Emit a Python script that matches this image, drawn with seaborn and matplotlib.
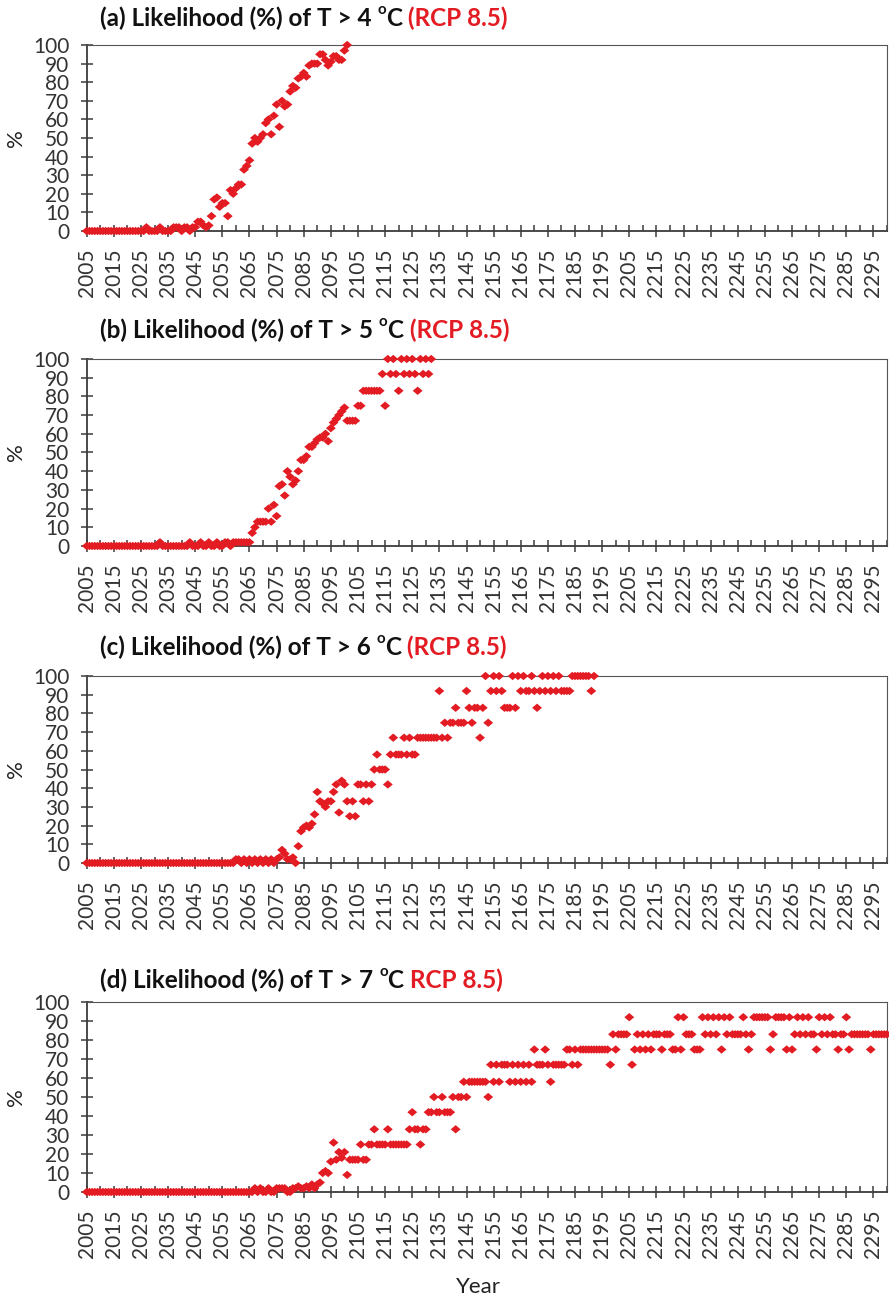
import numpy as np
import matplotlib
matplotlib.use("Agg")
import matplotlib.pyplot as plt
from matplotlib.markers import MarkerStyle
import seaborn as sns

# likelihood (%) per year, starting in 2005
start_year = 2005

t4_vals = [
    0, 0, 0, 0, 0, 0, 0, 0, 0, 0,            # 2005
    0, 0, 0, 0, 0, 0, 0, 0, 0, 0,            # 2015
    0, 0, 2, 0, 0, 0, 0, 2, 0, 0,            # 2025
    0, 0, 2, 2, 2, 0, 2, 2, 0, 2,            # 2035
    2, 5, 5, 3, 2, 3, 8, 17, 18, 13,         # 2045
    15, 15, 8, 22, 20, 23, 25, 25, 33, 35,   # 2055
    38, 47, 50, 48, 50, 52, 58, 60, 52, 62,  # 2065
    68, 56, 70, 67, 68, 75, 78, 77, 82, 83,  # 2075
    85, 83, 89, 90, 90, 90, 95, 95, 92, 89,  # 2085
    91, 94, 94, 92, 92, 97, 100,             # 2095
]

t5_vals = [
    0, 0, 0, 0, 0, 0, 0, 0, 0, 0,            # 2005
    0, 0, 0, 0, 0, 0, 0, 0, 0, 0,            # 2015
    0, 0, 0, 0, 0, 0, 0, 2, 0, 0,            # 2025
    0, 0, 0, 0, 0, 0, 0, 0, 2, 0,            # 2035
    0, 0, 2, 0, 0, 2, 0, 0, 2, 0,            # 2045
    0, 2, 2, 0, 2, 2, 2, 2, 2, 2,            # 2055
    2, 7, 10, 13, 13, 13, 13, 20, 13, 22,    # 2065
    16, 32, 33, 27, 40, 37, 33, 35, 40, 46,  # 2075
    46, 48, 53, 53, 55, 57, 58, 58, 60, 56,  # 2085
    63, 66, 68, 70, 72, 74, 67, 67, 67, 67,  # 2095
    75, 75, 83, 83, 83, 83, 83, 83, 83, 92,  # 2105
    75, 100, 92, 100, 92, 83, 100, 92, 100, 92,  # 2115
    100, 92, 83, 100, 92, 100, 92, 100,      # 2125
]

t6_vals = [
    0, 0, 0, 0, 0, 0, 0, 0, 0, 0,            # 2005
    0, 0, 0, 0, 0, 0, 0, 0, 0, 0,            # 2015
    0, 0, 0, 0, 0, 0, 0, 0, 0, 0,            # 2025
    0, 0, 0, 0, 0, 0, 0, 0, 0, 0,            # 2035
    0, 0, 0, 0, 0, 0, 0, 0, 0, 0,            # 2045
    0, 0, 0, 0, 0, 2, 2, 0, 2, 0,            # 2055
    2, 0, 2, 0, 2, 0, 2, 0, 2, 0,            # 2065
    2, 3, 7, 5, 2, 2, 3, 0, 9, 17,           # 2075
    19, 20, 19, 21, 26, 38, 33, 32, 30, 33,  # 2085
    33, 38, 42, 27, 44, 42, 33, 25, 33, 25,  # 2095
    42, 42, 33, 42, 33, 42, 50, 58, 50, 50,  # 2105
    50, 42, 58, 67, 58, 58, 58, 67, 58, 67,  # 2115
    58, 58, 67, 67, 67, 67, 67, 67, 67, 67,  # 2125
    92, 67, 75, 67, 75, 75, 83, 75, 75, 75,  # 2135
    92, 83, 75, 83, 83, 67, 83, 100, 75, 92, # 2145
    100, 92, 100, 92, 83, 83, 83, 100, 83, 100,  # 2155
    92, 100, 92, 92, 100, 92, 83, 92, 100, 92,   # 2165
    100, 92, 100, 92, 100, 92, 92, 92, 92, 100,  # 2175
    100, 100, 100, 100, 100, 100, 92, 100,       # 2185
]

t7_vals = [
    0, 0, 0, 0, 0, 0, 0, 0, 0, 0,            # 2005
    0, 0, 0, 0, 0, 0, 0, 0, 0, 0,            # 2015
    0, 0, 0, 0, 0, 0, 0, 0, 0, 0,            # 2025
    0, 0, 0, 0, 0, 0, 0, 0, 0, 0,            # 2035
    0, 0, 0, 0, 0, 0, 0, 0, 0, 0,            # 2045
    0, 0, 0, 0, 0, 0, 0, 0, 0, 0,            # 2055
    0, 0, 2, 0, 2, 0, 0, 2, 0, 0,            # 2065
    2, 2, 2, 2, 0, 0, 2, 2, 3, 2,            # 2075
    2, 3, 2, 4, 2, 4, 5, 10, 11, 10,         # 2085
    16, 26, 17, 21, 18, 21, 9, 17, 17, 17,   # 2095
    17, 25, 17, 17, 25, 25, 33, 25, 25, 25,  # 2105
    25, 33, 25, 25, 25, 25, 25, 25, 25, 33,  # 2115
    42, 33, 33, 25, 33, 33, 42, 42, 50, 42,  # 2125
    42, 50, 42, 42, 42, 50, 33, 50, 50, 58,  # 2135
    50, 58, 58, 58, 58, 58, 58, 58, 50, 67,  # 2145
    58, 67, 58, 67, 67, 67, 58, 67, 58, 67,  # 2155
    58, 67, 58, 67, 58, 75, 67, 67, 67, 75,  # 2165
    67, 58, 67, 67, 67, 67, 67, 75, 75, 67,  # 2175
    75, 67, 75, 75, 75, 75, 75, 75, 75, 75,  # 2185
    75, 75, 75, 67, 83, 75, 83, 83, 83, 83,  # 2195
    92, 67, 75, 83, 75, 83, 75, 83, 75, 83,  # 2205
    83, 83, 75, 83, 83, 83, 75, 75, 92, 75,  # 2215
    92, 83, 83, 83, 75, 75, 75, 92, 83, 92,  # 2225
    83, 92, 83, 92, 75, 92, 83, 92, 83, 83,  # 2235
    83, 83, 92, 83, 75, 83, 92, 92, 92, 92,  # 2245
    92, 92, 75, 83, 92, 92, 92, 92, 75, 92,  # 2255
    75, 83, 92, 83, 92, 83, 92, 83, 83, 75,  # 2265
    92, 83, 92, 83, 92, 83, 83, 75, 83, 83,  # 2275
    92, 75, 83, 83, 83, 83, 83, 83, 83, 75,  # 2285
    83, 83, 83, 83, 83, 83,                  # 2295
]

panel_series = [t4_vals, t5_vals, t6_vals, t7_vals]
panel_titles = [
    "(a) Likelihood (%) of T > 4 ",
    "(b) Likelihood (%) of T > 5 ",
    "(c) Likelihood (%) of T > 6 ",
    "(d) Likelihood (%) of T > 7 ",
]
panel_red = [" (RCP 8.5)", " (RCP 8.5)", " (RCP 8.5)", " RCP 8.5)"]

tick_years = list(range(2005, 2300, 10))
y_ticks = [0, 10, 20, 30, 40, 50, 60, 70, 80, 90, 100]

RED = "#E31B23"
DARK = "#3c3c3c"

sns.set_theme(style="white")
plt.rcParams["font.family"] = ["Lato", "DejaVu Sans"]

W, H = 889, 1300
fig = plt.figure(figsize=(W / 100, H / 100), dpi=100)

# axes boxes in pixels: (top, bottom) of plot area, and title centre
ax_left, ax_right = 86.7, 887
boxes = [(45, 231, 18), (359, 546, 330), (676, 863, 647), (1002, 1192, 980)]

diamond = MarkerStyle([(-1, 0), (0, 0.85), (1, 0), (0, -0.85), (-1, 0)])

for i, (vals, (top, bot, ty)) in enumerate(zip(panel_series, boxes)):
    ax = fig.add_axes([ax_left / W, 1 - bot / H, (ax_right - ax_left) / W, (bot - top) / H])
    years = np.arange(start_year, start_year + len(vals))
    sns.scatterplot(x=years, y=vals, ax=ax, marker=diamond, color=RED,
                    s=50, linewidth=0, edgecolor="none", clip_on=False, zorder=3)
    ax.set_xlim(2005, 2300)
    ax.set_ylim(0, 100)
    ax.set_xticks(tick_years)
    ax.set_xticklabels([str(y) for y in tick_years], rotation=90)
    ax.set_xticks(list(range(2010, 2301, 10)), minor=True)
    ax.set_yticks(y_ticks)
    ax.tick_params(axis="x", which="major", direction="inout", length=9, width=1.1,
                   color=DARK, labelsize=15, labelcolor="#333333", pad=8, bottom=True)
    ax.tick_params(axis="x", which="minor", direction="in", length=4, width=1.1,
                   color=DARK, bottom=True)
    ax.tick_params(axis="y", which="major", direction="inout", length=9, width=1.1,
                   color=DARK, labelsize=15, labelcolor="#333333", pad=8, left=True)
    for side in ["left", "bottom"]:
        ax.spines[side].set_color(DARK)
        ax.spines[side].set_linewidth(1.3)
    for side in ["top", "right"]:
        ax.spines[side].set_color("#555555")
        ax.spines[side].set_linewidth(0.8)
    ax.set_xlabel("")
    ax.set_ylabel("")

    fig.text(16 / W, 1 - (top + bot) / 2 / H, "%", rotation=90, ha="center",
             va="center", fontsize=16, color="#222222")

    # title: black bold part, superscript o, C, then red bold part
    fs = 17.5
    t1 = fig.text(100 / W, 1 - ty / H, panel_titles[i], ha="left", va="center",
                  fontsize=fs, weight="bold", color="#111111")
    t2 = plt.annotate("o", xy=(1, 0.55), xycoords=t1, ha="left", va="bottom",
                      fontsize=fs * 0.62, weight="bold", color="#111111",
                      annotation_clip=False)
    t3 = plt.annotate("C", xy=(1, 0), xycoords=(t2, t1), ha="left", va="bottom",
                      fontsize=fs, weight="bold", color="#111111",
                      annotation_clip=False)
    plt.annotate(panel_red[i], xy=(1, 0), xycoords=(t3, t1), ha="left", va="bottom",
                 fontsize=fs, weight="bold", color=RED, annotation_clip=False)

fig.text(478 / W, 1 - 1287 / H, "Year", ha="center", va="center",
         fontsize=16, color="#222222")

fig.savefig("out.png", dpi=100)
